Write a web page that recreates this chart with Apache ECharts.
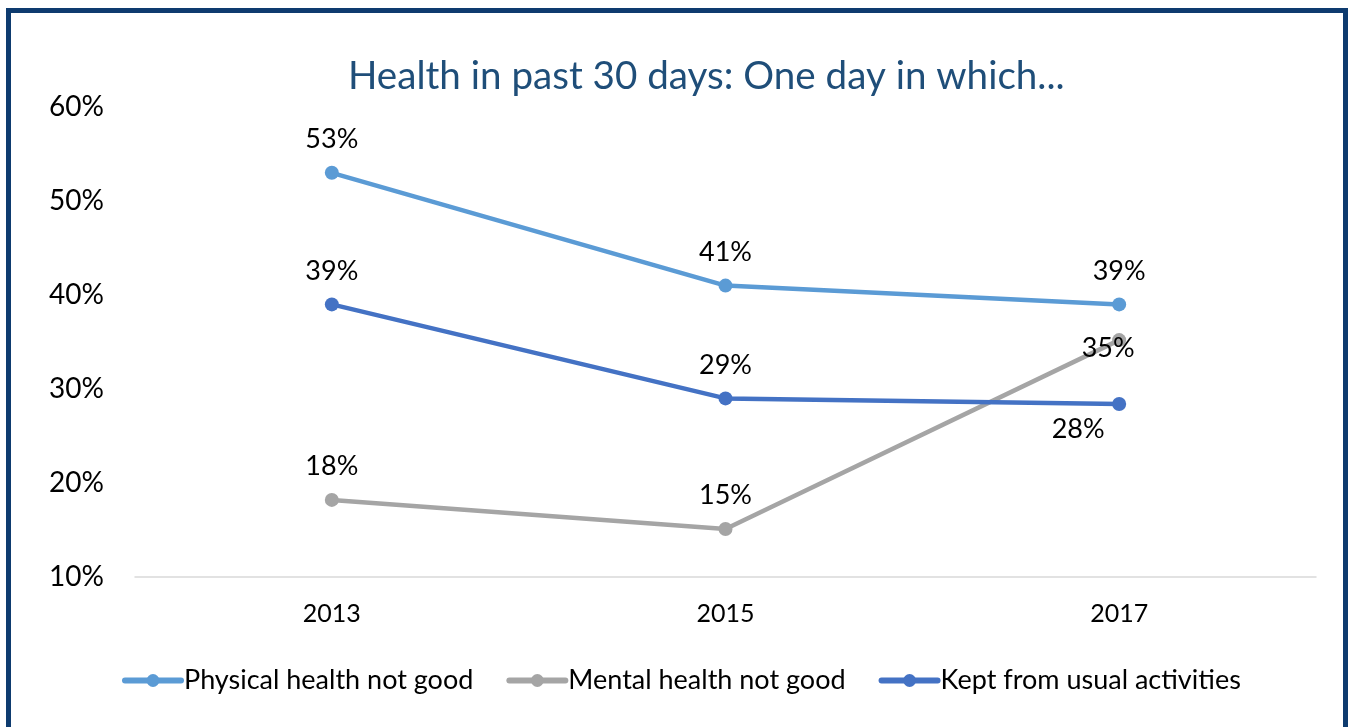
<!DOCTYPE html>
<html>
<head>
<meta charset="utf-8">
<script src="https://cdn.jsdelivr.net/npm/echarts@6/dist/echarts.min.js"></script>
<style>
    html, body { margin: 0; padding: 0; width: 100%; height: 100%; background: #fff; overflow: hidden; }
    #main { position: absolute; left: 0; top: 0; width: 1348px; height: 727px; }
    #frame { position: absolute; left: 6px; top: 8px; width: 1332px; height: 760px;
             border: 5px solid #0e3b6f; pointer-events: none; }
</style>
</head>
<body>
<div id="main"></div>
<div id="frame"></div>
<script>
    // data
    var years = ['2013', '2015', '2017'];
    var physical = [53, 41, 39];
    var mental = [18.2, 15.1, 35.2];
    var kept = [39, 29, 28.4];
    var labelsPhysical = ['53%', '41%', '39%'];
    var labelsMental = ['18%', '15%', '35%'];
    var labelsKept = ['39%', '29%', '28%'];
    var yTicks = [10, 20, 30, 40, 50, 60];

    var font = 'Lato, "Open Sans", sans-serif';

    function withLabels(values, labels, special) {
        return values.map(function (v, i) {
            var d = { value: v, labelText: labels[i] };
            if (special && special[i]) d.label = special[i];
            return d;
        });
    }

    function lineSeries(name, color, values, labels, special) {
        return {
            name: name,
            type: 'line',
            data: withLabels(values, labels, special),
            symbol: 'circle',
            symbolSize: 14,
            lineStyle: { width: 4.5, color: color },
            itemStyle: { color: color },
            label: {
                show: true,
                position: 'top',
                distance: 13,
                color: '#000',
                fontFamily: font,
                fontSize: 27,
                formatter: function (p) { return p.data.labelText; }
            }
        };
    }

    var myChart = echarts.init(document.getElementById('main'));
    myChart.setOption({
        animation: false,
        title: {
            text: 'Health in past 30 days: One day in which...',
            left: 343,
            top: 52,
            textStyle: { color: '#1f4e79', fontFamily: font, fontSize: 38.6, fontWeight: 'normal' }
        },
        legend: {
            bottom: 28,
            left: 117,
            itemWidth: 56,
            itemHeight: 16,
            itemGap: 33,
            lineStyle: { width: 6, cap: 'round' },
            textStyle: { color: '#000', fontFamily: font, fontSize: 27, padding: [0, 0, 0, -2] },
            data: ['Physical health not good', 'Mental health not good', 'Kept from usual activities']
        },
        grid: { left: 135, right: 32, top: 107, bottom: 150 },
        xAxis: {
            type: 'category',
            data: years,
            axisLine: { lineStyle: { color: '#d9d9d9', width: 1.5 } },
            axisTick: { show: false },
            axisLabel: { color: '#000', fontFamily: font, fontSize: 25, margin: 24 }
        },
        yAxis: {
            type: 'value',
            min: yTicks[0],
            max: yTicks[yTicks.length - 1],
            interval: 10,
            axisLine: { show: false },
            axisTick: { show: false },
            splitLine: { show: false },
            axisLabel: { color: '#000', fontFamily: font, fontSize: 28, margin: 31, formatter: '{value}%' }
        },
        series: [
            lineSeries('Physical health not good', '#5b9bd5', physical, labelsPhysical),
            lineSeries('Mental health not good', '#a5a5a5', mental, labelsMental,
                [null, null, { position: 'inside', offset: [-11, 8] }]),
            lineSeries('Kept from usual activities', '#4472c4', kept, labelsKept,
                [null, null, { position: 'bottom', distance: 5, offset: [-41, 0] }])
        ]
    });
</script>
</body>
</html>
